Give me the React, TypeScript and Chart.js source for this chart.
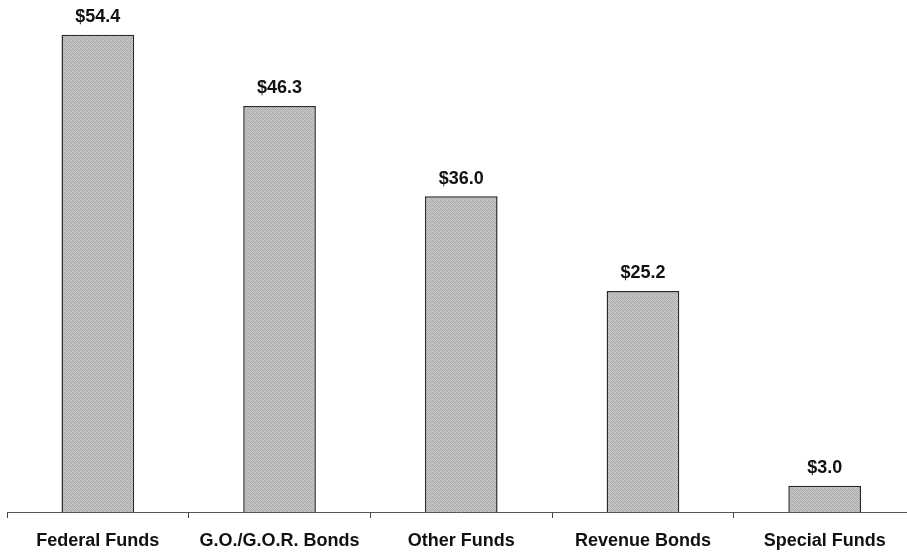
import React, { useEffect, useRef } from "react";
import { Chart, registerables } from "chart.js";

Chart.register(...registerables);

const categories = ["Federal Funds", "G.O./G.O.R. Bonds", "Other Funds", "Revenue Bonds", "Special Funds"];
const values = [54.4, 46.3, 36.0, 25.2, 3.0];
const valueLabels = ["$54.4", "$46.3", "$36.0", "$25.2", "$3.0"];

const FONT = "'Liberation Sans', Arial, Helvetica, sans-serif";

const barLabelPlugin = {
  id: "barLabels",
  afterDatasetsDraw(chart: any) {
    const ctx = chart.ctx;
    const meta = chart.getDatasetMeta(0);
    ctx.save();
    ctx.font = `bold 18px ${FONT}`;
    ctx.fillStyle = "#111";
    ctx.textAlign = "center";
    ctx.textBaseline = "alphabetic";
    meta.data.forEach((bar: any, i: number) => {
      ctx.fillText(valueLabels[i], bar.x, bar.y - 12.5);
    });
    ctx.restore();
  },
};

function makePattern(): CanvasPattern | string {
  const c = document.createElement("canvas");
  c.width = 4;
  c.height = 4;
  const g = c.getContext("2d");
  if (!g) return "#b8b8b8";
  const shades = [
    "#a8a8a8", "#c8c8c8", "#b0b0b0", "#d0d0d0",
    "#c4c4c4", "#a4a4a4", "#cccccc", "#acacac",
    "#b4b4b4", "#d2d2d2", "#a6a6a6", "#c2c2c2",
    "#cecece", "#aaaaaa", "#c6c6c6", "#b2b2b2",
  ];
  for (let y = 0; y < 4; y++) {
    for (let x = 0; x < 4; x++) {
      g.fillStyle = shades[y * 4 + x];
      g.fillRect(x, y, 1, 1);
    }
  }
  const p = g.createPattern(c, "repeat");
  return p || "#b8b8b8";
}

export default function App() {
  const ref = useRef<HTMLCanvasElement | null>(null);

  useEffect(() => {
    if (!ref.current) return;
    const chart = new Chart(ref.current, {
      type: "bar",
      data: {
        labels: categories,
        datasets: [
          {
            data: values,
            backgroundColor: makePattern() as any,
            borderColor: "#2a2a2a",
            borderWidth: 1.5,
            barPercentage: 0.8,
            categoryPercentage: 0.5,
          },
        ],
      },
      options: {
        animation: false,
        responsive: false,
        maintainAspectRatio: false,
        layout: { padding: { left: 7, right: 4.5, top: 3.3, bottom: 0 } },
        plugins: {
          legend: { display: false },
          tooltip: { enabled: false },
        },
        scales: {
          x: {
            afterFit(scale: any) {
              scale.height = 41;
            },
            grid: {
              display: true,
              drawOnChartArea: false,
              drawTicks: true,
              tickLength: 6,
              color: "#444",
              offset: true,
            },
            border: { display: true, color: "#555", width: 1 },
            ticks: {
              color: "#111",
              font: { family: FONT, size: 18, weight: "bold" },
              padding: 12,
              maxRotation: 0,
              autoSkip: false,
            },
          },
          y: {
            display: false,
            min: 0,
            max: 58,
          },
        },
      },
      plugins: [barLabelPlugin],
    });
    return () => chart.destroy();
  }, []);

  return (
    <div style={{ position: "fixed", left: 0, top: 0, width: 907, height: 553, overflow: "hidden", background: "#fff" }}>
      <canvas ref={ref} width={920} height={553} style={{ display: "block", width: 920, height: 553 }} />
    </div>
  );
}
